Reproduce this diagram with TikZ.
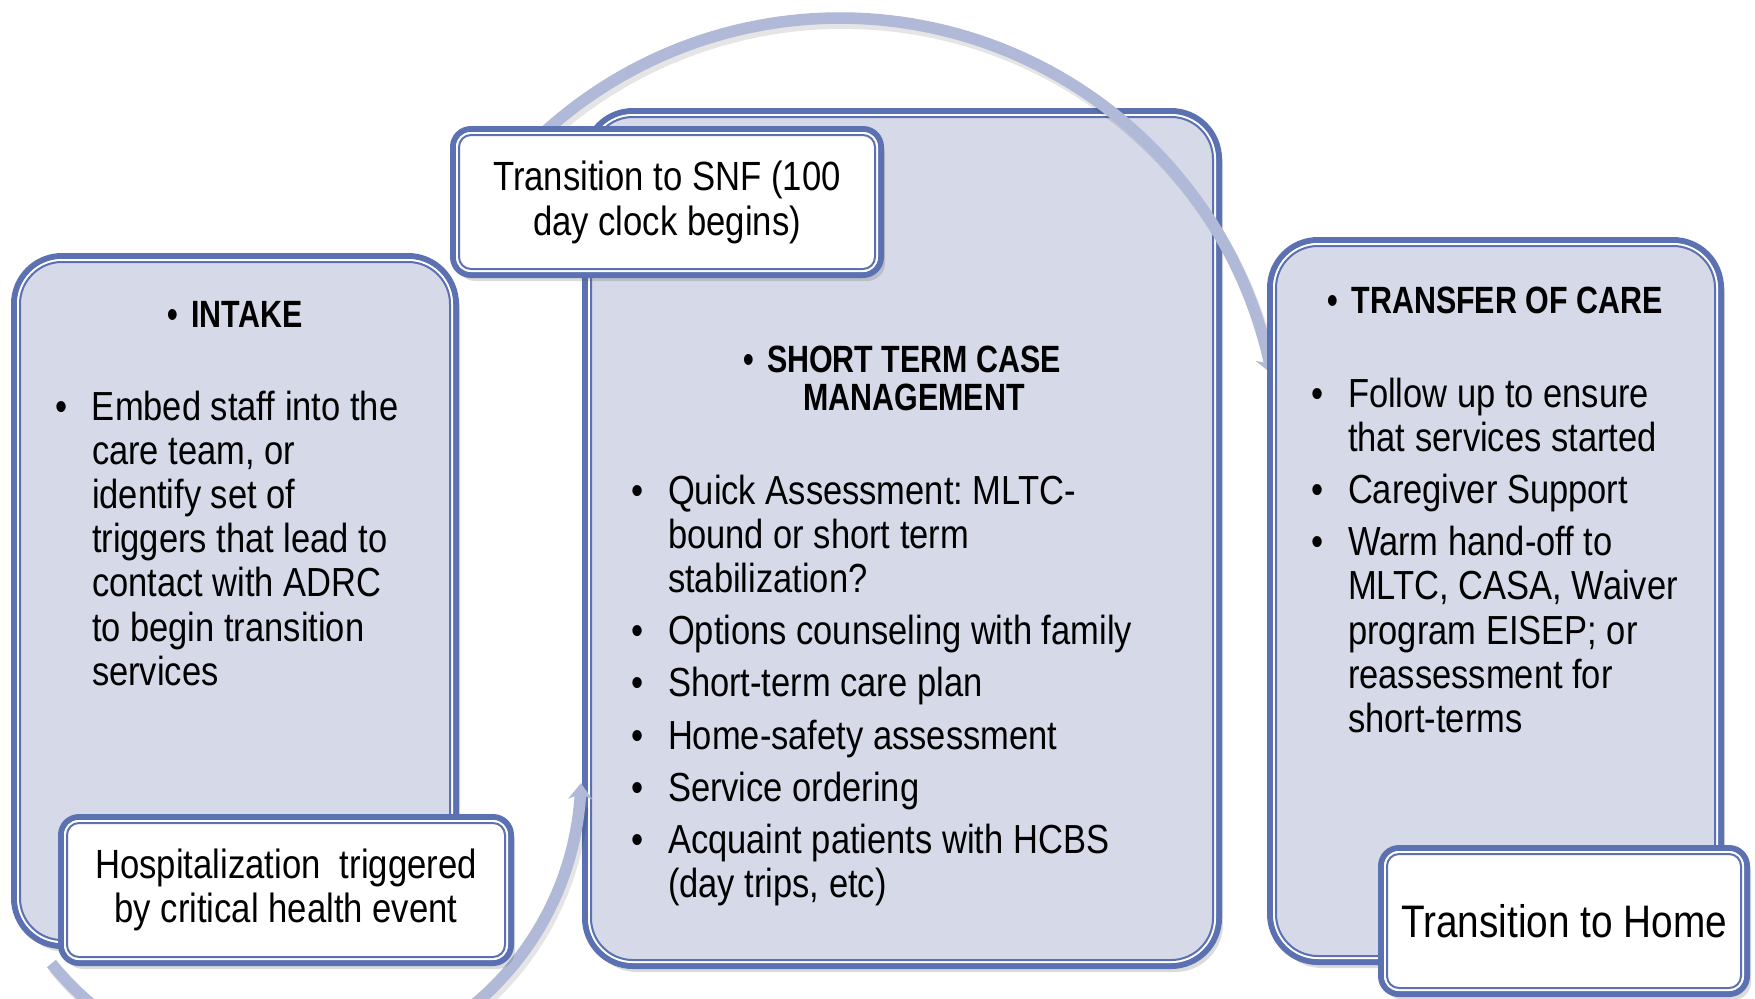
\documentclass[tikz,border=0pt]{standalone}
\usepackage{fontspec}
\setmainfont{Liberation Sans}[FakeStretch=0.85]
\newfontfamily\headfont{Liberation Sans}[FakeStretch=0.8]
\usetikzlibrary{arrows.meta,shadows,calc}
\frenchspacing

\definecolor{frameblue}{RGB}{91,113,178}
\definecolor{panelfill}{RGB}{214,218,232}
\definecolor{ringblue}{RGB}{176,185,216}

% bullet lists with a hanging indent
\newlength\bulletgap \setlength\bulletgap{18.5pt}
\newcommand\listfont{\fontsize{20.3}{22.1}\selectfont}
\newcommand\firstpoint[1]{\hangindent=\bulletgap\hangafter=1\noindent\makebox[\bulletgap][l]{•}#1\par}
\newcommand\nextpoint[1]{\vspace{4pt}\firstpoint{#1}}
\newcommand\pointlist[1]{\parbox[t]{300pt}{\listfont\raggedright #1}}
% bold panel titles with their own bullet
\newcommand\headtitle[1]{{\headfont\bfseries\fontsize{19}{19}\selectfont
  \begin{tabular}[t]{@{}l@{}c@{}}\makebox[12pt][l]{•}&#1\end{tabular}}}
% thin white and blue lines inside the thick border
\newcommand\innerrim[3]{%
  \draw[white, line width=1pt, rounded corners=#2]
    ([shift={(4,-4)}]#1.south west) rectangle ([shift={(-4,4)}]#1.north east);
  \draw[frameblue, line width=1pt, rounded corners=#3]
    ([shift={(6,-6)}]#1.south west) rectangle ([shift={(-6,6)}]#1.north east);
}

\begin{document}
\begin{tikzpicture}[x=0.5pt,y=-0.5pt,
  boxshadow/.style={drop shadow={shadow xshift=2pt, shadow yshift=-3pt, opacity=0.2, fill=black!70}},
  panel/.style={draw=frameblue, fill=panelfill, line width=3pt, rounded corners=24pt,
    outer sep=0pt, inner sep=0pt, boxshadow},
  tag/.style={draw=frameblue, fill=white, line width=3pt, rounded corners=9pt,
    outer sep=0pt, inner sep=0pt, align=center, boxshadow},
  ring/.style={draw=ringblue, line width=5.8pt},
  ringshade/.style={draw=black, opacity=0.1, line width=5.8pt},
  txt/.style={inner sep=0pt, outer sep=0pt}]

\useasboundingbox (0,0) rectangle (1755,998);
\fill[white] (0,0) rectangle (1755,998);

% intake panel
\node[panel, minimum width=221pt, minimum height=345pt] (intake) at (235,601) {};
\innerrim{intake}{22pt}{21pt}
\node[txt, anchor=base] (intakeHead) at (235,327) {\headtitle{INTAKE}};
\node[txt, anchor=base west] (intakeList) at (55,420) {\pointlist{%
  \firstpoint{Embed staff into the\newline care team, or\newline identify set of\newline
    triggers that lead to\newline contact with ADRC\newline to begin transition\newline services}}};

% short term case management panel
\node[panel, minimum width=317pt, minimum height=427.5pt] (stcm) at (902,538.5) {};
\innerrim{stcm}{22pt}{21pt}
\node[txt, anchor=base] (stcmHead) at (902,372.5) {\headtitle{SHORT TERM CASE\\&MANAGEMENT}};
\node[txt, anchor=base west] (stcmList) at (631,504) {\pointlist{%
  \firstpoint{Quick Assessment: MLTC-\newline bound or short term\newline stabilization?}
  \nextpoint{Options counseling with family}
  \nextpoint{Short-term care plan}
  \nextpoint{Home-safety assessment}
  \nextpoint{Service ordering}
  \nextpoint{Acquaint patients with HCBS\newline (day trips, etc)}}};

% upper ring arrow: from the SNF transition round to the transfer of care
\coordinate (ringTop) at (840,458);
\draw[ringshade] plot[domain=-140:-14, samples=90, variable=\t]
  ({843+440*cos(\t)},{463+440*sin(\t)});
\draw[ring, -{Stealth[length=8pt, width=13pt]}] plot[domain=-140:-11, samples=90, variable=\t]
  ({840+440*cos(\t)},{458+440*sin(\t)});

% SNF transition tag
\node[tag, font={\fontsize{20.4}{22.5}\selectfont}, minimum width=214pt, minimum height=73pt]
  (snf) at (667,202) {Transition to SNF (100\\day clock begins)};
\innerrim{snf}{7pt}{6pt}

% transfer of care panel
\node[panel, minimum width=225.5pt, minimum height=361pt] (transfer) at (1495.5,601) {};
\innerrim{transfer}{22pt}{21pt}
\node[txt, anchor=base] (transferHead) at (1495,313) {\headtitle{TRANSFER OF CARE}};
\node[txt, anchor=base west] (transferList) at (1311,407) {\pointlist{%
  \firstpoint{Follow up to ensure\newline that services started}
  \nextpoint{Caregiver Support}
  \nextpoint{Warm hand-off to\newline MLTC, CASA, Waiver\newline program EISEP; or\newline
    reassessment for\newline short-terms}}};

% lower ring arrow: from the hospitalization round to case management
\coordinate (ringLow) at (283,776);
\draw[ringshade] plot[domain=0:1, samples=90, variable=\t]
  ({286+298*cos(141-136*\t)},{781+298*sin(141-136*\t)});
\draw[ring, -{Stealth[length=8pt, width=12pt]}] plot[domain=0:1, samples=90, variable=\t]
  ({283+298*cos(141-139.7*\t)},{776+298*sin(141-139.7*\t)});

% hospitalization tag
\node[tag, font={\fontsize{20.4}{21.7}\selectfont}, minimum width=225pt, minimum height=73pt]
  (hosp) at (286,890) {Hospitalization\ \ triggered\\by critical health event};
\innerrim{hosp}{7pt}{6pt}

% home transition tag
\node[tag, font={\fontsize{22.8}{24}\selectfont}, minimum width=183pt, minimum height=73pt]
  (home) at (1564,921) {Transition to Home};
\innerrim{home}{7pt}{6pt}

\end{tikzpicture}
\end{document}
